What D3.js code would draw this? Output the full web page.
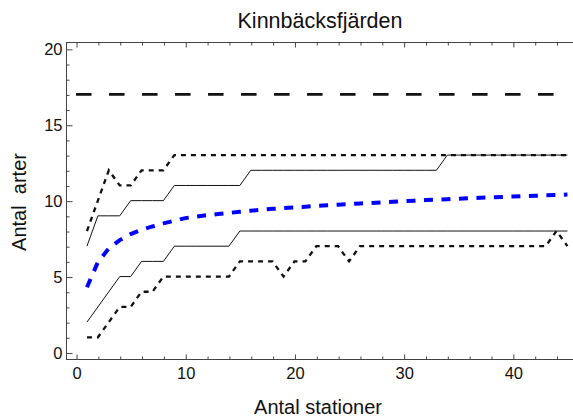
<!DOCTYPE html>
<html>
<head>
    <meta charset="UTF-8">
    <title>Kinnbäcksfjärden</title>
    <script src="https://d3js.org/d3.v7.min.js"></script>
    <style type="text/css">
        body { margin: 0; background: white; }
        text { font-family: "Liberation Sans", Arial, sans-serif; fill: #111; }
    </style>
</head>
<body>
    <svg id="chart"></svg>

    <script>
        const width = 573;
        const height = 420;

        // antal stationer 1..45
        const stations = [
            1, 2, 3, 4, 5, 6, 7, 8, 9, 10,
            11, 12, 13, 14, 15, 16, 17, 18, 19, 20,
            21, 22, 23, 24, 25, 26, 27, 28, 29, 30,
            31, 32, 33, 34, 35, 36, 37, 38, 39, 40,
            41, 42, 43, 44, 45
        ];
        const meanCurve = [
            4.3, 5.95, 6.85, 7.4, 7.8, 8.08, 8.3, 8.5, 8.68, 8.85,
            8.95, 9.04, 9.12, 9.19, 9.27, 9.34, 9.4, 9.46, 9.51, 9.56,
            9.6, 9.65, 9.69, 9.73, 9.77, 9.81, 9.85, 9.89, 9.93, 9.97,
            10.0, 10.04, 10.07, 10.1, 10.13, 10.16, 10.19, 10.22, 10.24, 10.27,
            10.3, 10.32, 10.35, 10.37, 10.4
        ];
        const upperSolid = [
            7, 9, 9, 9, 10, 10, 10, 10, 11, 11,
            11, 11, 11, 11, 11, 12, 12, 12, 12, 12,
            12, 12, 12, 12, 12, 12, 12, 12, 12, 12,
            12, 12, 12, 13, 13, 13, 13, 13, 13, 13,
            13, 13, 13, 13, 13
        ];
        const lowerSolid = [
            2, 3, 4, 5, 5, 6, 6, 6, 7, 7,
            7, 7, 7, 7, 8, 8, 8, 8, 8, 8,
            8, 8, 8, 8, 8, 8, 8, 8, 8, 8,
            8, 8, 8, 8, 8, 8, 8, 8, 8, 8,
            8, 8, 8, 8, 8
        ];
        const upperDotted = [
            8, 10, 12, 11, 11, 12, 12, 12, 13, 13,
            13, 13, 13, 13, 13, 13, 13, 13, 13, 13,
            13, 13, 13, 13, 13, 13, 13, 13, 13, 13,
            13, 13, 13, 13, 13, 13, 13, 13, 13, 13,
            13, 13, 13, 13, 13
        ];
        const lowerDotted = [
            1, 1, 2, 3, 3, 4, 4, 5, 5, 5,
            5, 5, 5, 5, 6, 6, 6, 6, 5, 6,
            6, 7, 7, 7, 6, 7, 7, 7, 7, 7,
            7, 7, 7, 7, 7, 7, 7, 7, 7, 7,
            7, 7, 7, 8, 7
        ];
        const totalSpecies = 17;
        const totalRange = [0, 44.8];

        const xTicks = [0, 10, 20, 30, 40];
        const yTicks = [0, 5, 10, 15, 20];

        const plot = { left: 66, right: 574, top: 42, bottom: 359 };

        const svg = d3.select("#chart")
            .attr("width", width)
            .attr("height", height);

        const x = d3.scaleLinear().domain([-0.92, 45.6]).range([plot.left, plot.right]);
        const y = d3.scaleLinear().domain([-0.43, 20.45]).range([plot.bottom, plot.top]);

        // frame
        svg.append("rect")
            .attr("x", plot.left + 0.5)
            .attr("y", plot.top + 0.5)
            .attr("width", plot.right - plot.left)
            .attr("height", plot.bottom - plot.top)
            .style("fill", "none")
            .style("stroke", "#444")
            .style("stroke-width", 1);

        const styleAxis = (g) => {
            g.select(".domain").remove();
            g.selectAll("line").style("stroke", "#444");
            g.selectAll("text").style("font-size", "16.5px").style("font-family", "Liberation Sans, Arial, sans-serif").style("fill", "#111");
        };

        // major ticks
        svg.append("g")
            .attr("transform", `translate(0.5,${plot.bottom + 0.5})`)
            .call(d3.axisBottom(x).tickValues(xTicks).tickSizeInner(-5).tickSizeOuter(0).tickPadding(8))
            .call(styleAxis);
        svg.append("g")
            .attr("transform", `translate(0.5,${plot.top + 0.5})`)
            .call(d3.axisTop(x).tickValues(xTicks).tickSizeInner(-5).tickSizeOuter(0).tickFormat(""))
            .call(styleAxis);
        svg.append("g")
            .attr("transform", `translate(${plot.left + 0.5},0.5)`)
            .call(d3.axisLeft(y).tickValues(yTicks).tickSizeInner(-6).tickSizeOuter(0).tickPadding(4))
            .call(styleAxis);

        // minor ticks
        const xMinor = d3.range(2, 46, 2).filter(v => v % 10 !== 0);
        const yMinor = d3.range(1, 21, 1).filter(v => v % 5 !== 0);
        svg.append("g")
            .attr("transform", `translate(0.5,${plot.bottom + 0.5})`)
            .call(d3.axisBottom(x).tickValues(xMinor).tickSizeInner(-3).tickSizeOuter(0).tickFormat(""))
            .call(styleAxis);
        svg.append("g")
            .attr("transform", `translate(0.5,${plot.top + 0.5})`)
            .call(d3.axisTop(x).tickValues(xMinor).tickSizeInner(-3).tickSizeOuter(0).tickFormat(""))
            .call(styleAxis);
        svg.append("g")
            .attr("transform", `translate(${plot.left + 0.5},0.5)`)
            .call(d3.axisLeft(y).tickValues(yMinor).tickSizeInner(-3).tickSizeOuter(0).tickFormat(""))
            .call(styleAxis);

        const lineGen = d3.line()
            .x(d => x(d[0]))
            .y(d => y(d[1]));
        const zip = (vals) => stations.map((s, i) => [s, vals[i]]);

        const drawLine = (data, color, w, dash) => {
            svg.append("path")
                .datum(data)
                .attr("d", lineGen)
                .style("fill", "none")
                .style("stroke", color)
                .style("stroke-width", w)
                .style("stroke-dasharray", dash);
        };

        drawLine(totalRange.map(v => [v, totalSpecies]), "#111", 2.6, "15.5,17.5");
        drawLine(zip(upperSolid), "#111", 1, null);
        drawLine(zip(lowerSolid), "#111", 1, null);
        drawLine(zip(upperDotted), "#111", 2.3, "5,5");
        drawLine(zip(lowerDotted), "#111", 2.3, "5,5");
        drawLine(zip(meanCurve), "#0000ff", 4, "9,8.5");

        // labels
        svg.append("text")
            .attr("x", 320)
            .attr("y", 28)
            .attr("text-anchor", "middle")
            .style("font-size", "21.5px")
            .text("Kinnbäcksfjärden");

        svg.append("text")
            .attr("x", 318)
            .attr("y", 414)
            .attr("text-anchor", "middle")
            .style("font-size", "20px")
            .text("Antal stationer");

        svg.append("text")
            .attr("transform", "translate(26,202) rotate(-90)")
            .attr("text-anchor", "middle")
            .style("font-size", "20px")
            .style("white-space", "pre")
            .text("Antal  arter");
    </script>
</body>
</html>
